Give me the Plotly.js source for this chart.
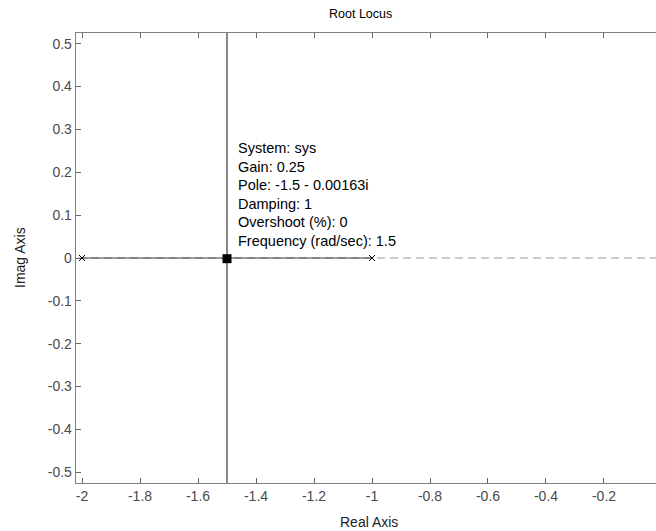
<!DOCTYPE html>
<html>
<head>
<meta charset="utf-8">
<script src="https://cdn.plot.ly/plotly-3.0.1.min.js"></script>
<style>
html,body{margin:0;padding:0;overflow:hidden;background:#fff;}
#plot{width:700px;height:531px;}
</style>
</head>
<body>
<div id="plot"></div>
<script>
// Open-loop poles
const poleRe = [-2, -1];
const poleIm = [0, 0];
// Root locus branches (break-away at -1.5, then vertical to +/- infinity)
const branch1Re = [-2, -1.5, -1.5];
const branch1Im = [0, 0, 10];
const branch2Re = [-1, -1.5, -1.5];
const branch2Im = [0, 0, -10];
// Real-axis dashed reference line
const refRe = [-3, 1];
const refIm = [0, 0];
// Selected data point
const selRe = [-1.5];
const selIm = [-0.00163];
const tipLines = ["System: sys", "Gain: 0.25", "Pole: -1.5 - 0.00163i", "Damping: 1", "Overshoot (%): 0", "Frequency (rad/sec): 1.5"];
// Ticks
const xTickVals = [-2, -1.8, -1.6, -1.4, -1.2, -1, -0.8, -0.6, -0.4, -0.2, 0];
const xTickText = ["-2", "-1.8", "-1.6", "-1.4", "-1.2", "-1", "-0.8", "-0.6", "-0.4", "-0.2", "0"];
const yTickVals = [-0.5, -0.4, -0.3, -0.2, -0.1, 0, 0.1, 0.2, 0.3, 0.4, 0.5];
const yTickText = ["-0.5", "-0.4", "-0.3", "-0.2", "-0.1", "0", "0.1", "0.2", "0.3", "0.4", "0.5"];

const FONT = "Liberation Sans, Arial, Helvetica, sans-serif";

const traces = [
  {x: refRe, y: refIm, mode: "lines", line: {color: "#9a9a9a", width: 1.2, dash: "8px,5px"}, hoverinfo: "skip"},
  {x: branch1Re, y: branch1Im, mode: "lines", line: {color: "#3a3a3a", width: 1.2}, hoverinfo: "skip"},
  {x: branch2Re, y: branch2Im, mode: "lines", line: {color: "#3a3a3a", width: 1.2}, hoverinfo: "skip"},
  {x: poleRe, y: poleIm, mode: "markers", marker: {symbol: "x-thin-open", size: 6, color: "#000", line: {color: "#000", width: 1}}, hoverinfo: "skip"},
  {x: selRe, y: selIm, mode: "markers", marker: {symbol: "square", size: 9, color: "#000"}, hoverinfo: "skip"}
];

const LINE_H = 18.6;
const tipAnns = tipLines.map((t, i) => ({
  x: selRe[0], y: 0, xref: "x", yref: "y",
  xanchor: "left", yanchor: "middle", xshift: 9,
  yshift: 17 + (tipLines.length - 1 - i) * LINE_H,
  align: "left", showarrow: false,
  text: t,
  font: {family: FONT, size: 14.5, color: "#000"}
}));

const layout = {
  width: 700, height: 531,
  margin: {l: 76, r: 20, t: 33, b: 48, pad: 0},
  paper_bgcolor: "#fff", plot_bgcolor: "#fff",
  showlegend: false,
  font: {family: FONT, size: 13, color: "#4a4a4a"},
  xaxis: {
    range: [-2.0207, 0.0621], tickmode: "array", tickvals: xTickVals, ticktext: xTickText,
    ticks: "inside", ticklen: 5, tickcolor: "#666", tickwidth: 1,
    showline: true, linecolor: "#808080", linewidth: 1.3, mirror: "ticks",
    showgrid: false, zeroline: false,
    tickfont: {family: FONT, size: 14, color: "#4a4a4a"}
  },
  yaxis: {
    range: [-0.525, 0.525], tickmode: "array", tickvals: yTickVals, ticktext: yTickText,
    ticks: "inside", ticklen: 5, tickcolor: "#666", tickwidth: 1,
    showline: true, linecolor: "#808080", linewidth: 1.3, mirror: "ticks",
    showgrid: false, zeroline: false,
    tickfont: {family: FONT, size: 14, color: "#4a4a4a"}
  },
  annotations: tipAnns.concat([
    {text: "Root Locus", xref: "paper", yref: "paper", x: (360 - 76) / 604, y: 1, yshift: 19, xanchor: "center", yanchor: "middle", showarrow: false, font: {family: FONT, size: 12.5, color: "#000"}},
    {text: "Real Axis", xref: "paper", yref: "paper", x: (369 - 76) / 604, y: 0, yshift: -39, xanchor: "center", yanchor: "middle", showarrow: false, font: {family: FONT, size: 14, color: "#222"}},
    {text: "Imag Axis", xref: "paper", yref: "paper", x: 0, xshift: -56, y: 0.5, textangle: -90, xanchor: "center", yanchor: "middle", showarrow: false, font: {family: FONT, size: 14, color: "#222"}}
  ])
};

Plotly.newPlot("plot", traces, layout, {displayModeBar: false, staticPlot: true});
</script>
</body>
</html>
